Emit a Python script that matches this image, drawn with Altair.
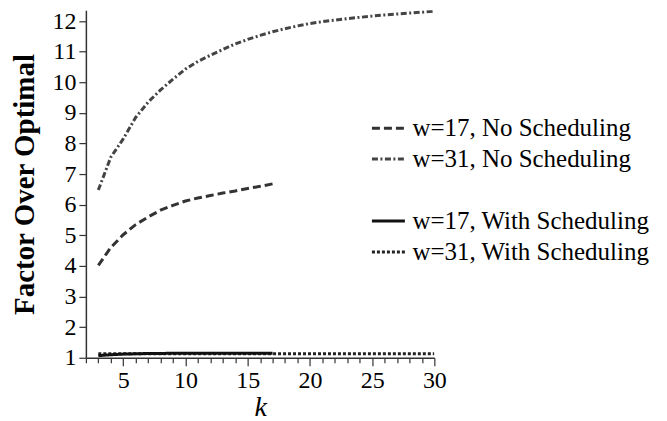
import altair as alt
import pandas as pd

# ---- data ----
k_17 = list(range(3, 18))
k_31 = list(range(3, 31))

no_sched_17 = [4.02, 4.6, 5.02, 5.35, 5.6, 5.82, 5.98, 6.12, 6.22, 6.3, 6.38, 6.45, 6.53, 6.6, 6.68]
no_sched_31 = [6.48, 7.55, 8.15, 8.85, 9.35, 9.75, 10.1, 10.43, 10.68, 10.88, 11.07, 11.25,
               11.4, 11.53, 11.65, 11.75, 11.84, 11.92, 11.98, 12.03, 12.08, 12.12, 12.16,
               12.2, 12.23, 12.26, 12.29, 12.32]
with_sched_17 = [1.07, 1.1, 1.12, 1.13, 1.14, 1.14, 1.15, 1.15, 1.15, 1.15, 1.15, 1.15, 1.15, 1.15, 1.15]
with_sched_31 = [1.13] * 28

series_order = ["w=17, No Scheduling", "w=31, No Scheduling", " ",
                "w=17, With Scheduling", "w=31, With Scheduling"]
series_colors = ["#333333", "#444444", "transparent", "#111111", "#222222"]
series_dashes = [[8, 4], [6, 2.5, 2, 2.5], [1, 0], [1, 0], [3, 2]]
series_widths = [3, 3, 0.1, 3.5, 3]

x_ticks = list(range(2, 31))
y_ticks = list(range(1, 13))

rows = []
for name, ks, vals in [
    ("w=31, With Scheduling", k_31, with_sched_31),
    ("w=17, With Scheduling", k_17, with_sched_17),
    ("w=17, No Scheduling", k_17, no_sched_17),
    ("w=31, No Scheduling", k_31, no_sched_31),
]:
    for k, v in zip(ks, vals):
        rows.append({"series": name, "k": k, "value": v})
df = pd.DataFrame(rows)

FONT = "Liberation Serif"

legend = alt.Legend(
    title=None, orient="none", legendX=285, legendY=100,
    symbolType="stroke", symbolSize=1089, labelFont=FONT, labelFontSize=25,
    labelColor="black", labelOffset=6, rowPadding=0, padding=0, labelLimit=0,
)

chart = alt.Chart(df).mark_line(clip=True).encode(
    x=alt.X("k:Q", scale=alt.Scale(domain=[2, 30], nice=False, zero=False),
            axis=alt.Axis(values=x_ticks, title="k", grid=False,
                          labelExpr="datum.value % 5 === 0 ? datum.label : ''",
                          tickSize={"condition": {"test": "datum.value % 5 === 0", "value": 8}, "value": 5},
                          titleFontStyle="italic", titleFontWeight="normal",
                          titleFontSize=28, titlePadding=1)),
    y=alt.Y("value:Q", scale=alt.Scale(domain=[1, 12.35], nice=False, zero=False),
            axis=alt.Axis(values=y_ticks, title="Factor Over Optimal", grid=False,
                          tickSize=7, titleFontWeight="bold", titleFontSize=29,
                          titlePadding=12)),
    color=alt.Color("series:N", scale=alt.Scale(domain=series_order, range=series_colors), legend=legend),
    strokeDash=alt.StrokeDash("series:N", scale=alt.Scale(domain=series_order, range=series_dashes), legend=legend),
    strokeWidth=alt.StrokeWidth("series:N", scale=alt.Scale(domain=series_order, range=series_widths), legend=legend),
    detail="series:N",
).properties(
    width=349, height=348,
    background="white",
    autosize=alt.AutoSizeParams(type="none"),
    padding={"left": 78, "top": 2, "right": 225, "bottom": 63},
).configure_view(stroke=None).configure_axis(
    labelFont=FONT, titleFont=FONT, labelFontSize=24, labelColor="black",
    titleColor="black", domainColor="#333333", tickColor="#333333",
    domainWidth=1.5, tickWidth=1.2, labelPadding=3, labelFlush=False, labelOverlap=False,
)

chart.save("out.html", embed_options={"renderer": "svg", "actions": False})
